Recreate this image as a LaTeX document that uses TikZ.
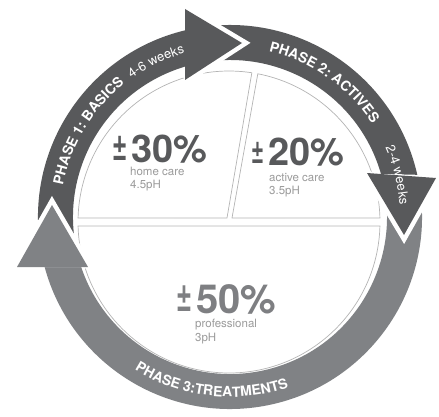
\documentclass[tikz,border=0pt]{standalone}
\usepackage{fontspec}
\setsansfont{TeX Gyre Heros}
\usepackage{graphicx}
\usetikzlibrary{calc,decorations.text}

\definecolor{darkband}{HTML}{58595B}
\definecolor{lightband}{HTML}{808285}
\definecolor{piegray}{HTML}{B4B4B4}
\definecolor{numdark}{HTML}{58595B}
\definecolor{numlight}{HTML}{7E7F82}
\definecolor{subgray}{HTML}{9B9B9B}

\newcommand{\phasefont}{\sffamily\bfseries\fontsize{14}{14}\selectfont}
\newcommand{\weekfont}{\sffamily\fontsize{13}{13}\selectfont}

\tikzset{
  piece/.style={draw=piegray, line width=0.7pt, fill=white},
  eraser/.style={draw=white, fill=white, line width=9pt, line join=miter},
  bigpct/.style={font=\sffamily\bfseries\fontsize{38}{38}\selectfont, inner sep=0pt, anchor=base west},
  pmsign/.style={font=\sffamily\bfseries\fontsize{26}{26}\selectfont, inner sep=0pt, anchor=base east},
  subtext/.style={font=\sffamily\fontsize{11.5}{11.5}\selectfont, text=subgray, inner sep=0pt, anchor=base west},
}

\begin{document}
\begin{tikzpicture}[x=1pt,y=1pt]
\useasboundingbox (0,0) rectangle (439,416);
\coordinate (rc) at (230,199);
\coordinate (pc) at (229,194);

% pie pieces
\draw[piece] (227,198) -- ($(pc)+(81.3:151pt)$) arc[start angle=81.3, end angle=178.48, radius=151pt] -- cycle;
\draw[piece] (232,198) -- ($(pc)+(79:151pt)$) arc[start angle=79, end angle=1.52, radius=151pt] -- cycle;
\draw[piece] ($(pc)+(-1.52:151pt)$) arc[start angle=-1.52, end angle=-178.48, radius=151pt] -- cycle;

% ring bodies
\fill[darkband] ($(rc)+(192:192pt)$) arc[start angle=192, end angle=102, radius=192pt]
  -- ($(rc)+(105.1:157pt)$) arc[start angle=105.1, end angle=192, radius=157pt] -- cycle;
\fill[darkband] ($(rc)+(97:192pt)$) arc[start angle=97, end angle=12.7, radius=192pt]
  -- ($(rc)+(15.9:157pt)$) arc[start angle=15.9, end angle=97, radius=157pt] -- cycle;
\fill[lightband] ($(rc)+(10:192pt)$) arc[start angle=10, end angle=-166.4, radius=192pt]
  -- ($(rc)+(-162.9:157pt)$) arc[start angle=-162.9, end angle=10, radius=157pt] -- cycle;

% arrow heads
\coordinate (h1a) at (185,407);
\coordinate (h1b) at (185,336);
\coordinate (h1t) at (242,373);
\coordinate (h2a) at (367,243);
\coordinate (h2b) at (436,238);
\coordinate (h2t) at (404,181);
\coordinate (h3a) at (17,149);
\coordinate (h3b) at (88,149);
\coordinate (h3t) at (52,211);

\filldraw[eraser] (h1a) -- (h1t) -- (h1b);
\filldraw[eraser] (h2a) -- (h2t) -- (h2b);
\filldraw[eraser] (h3a) -- (h3t) -- (h3b);
\fill[darkband] (h1a) -- (h1t) -- (h1b) -- cycle;
\fill[darkband] (h2a) -- (h2t) -- (h2b) -- cycle;
\fill[lightband] (h3a) -- (h3t) -- (h3b) -- cycle;

% phase labels
\path[decorate, decoration={text along path, text color=white, text={|\phasefont|PHASE 1: BASICS}}]
  ($(rc)+(169.2:170pt)$) arc[start angle=169.2, end angle=120, radius=170pt];
\path[decorate, decoration={text along path, text color=white, text={|\weekfont|4-6 weeks}}]
  ($(rc)+(125.4:170pt)$) arc[start angle=125.4, end angle=95, radius=170pt];
\path[decorate, decoration={text along path, text color=white, text={|\phasefont|PHASE 2: ACTIVES}}]
  ($(rc)+(76.8:170pt)$) arc[start angle=76.8, end angle=20, radius=170pt];
\path[decorate, decoration={text along path, text color=white, text={|\weekfont|2-4 weeks}}]
  ($(rc)+(24:170pt)$) arc[start angle=24, end angle=-15, radius=170pt];
\path[decorate, decoration={text along path, text color=white, text={|\phasefont|PHASE 3:TREATMENTS}}]
  ($(rc)+(238:180pt)$) arc[start angle=238, end angle=300, radius=180pt];

% shares
\node[pmsign, text=numdark] (pm30) at (128,255.5) {\scalebox{1}[1.6]{±}};
\node[bigpct, text=numdark] (pct30) at (131,254) {30\%};
\node[subtext] (care30) at (130,241) {home care};
\node[subtext] (ph30) at (130,228) {4.5pH};

\node[pmsign, text=numdark] (pm20) at (265,252.5) {\scalebox{0.85}[1.4]{±}};
\node[bigpct, text=numdark] (pct20) at (268,251) {20\%};
\node[subtext] (care20) at (269,235) {active care};
\node[subtext] (ph20) at (269,222) {3.5pH};

\node[pmsign, text=numlight] (pm50) at (193,104.5) {\scalebox{1.05}[1.7]{±}};
\node[bigpct, text=numlight, font=\sffamily\bfseries\fontsize{40}{40}\selectfont] (pct50) at (196,103) {50\%};
\node[subtext] (care50) at (195,89) {professional};
\node[subtext] (ph50) at (195,75) {3pH};
\end{tikzpicture}
\end{document}
